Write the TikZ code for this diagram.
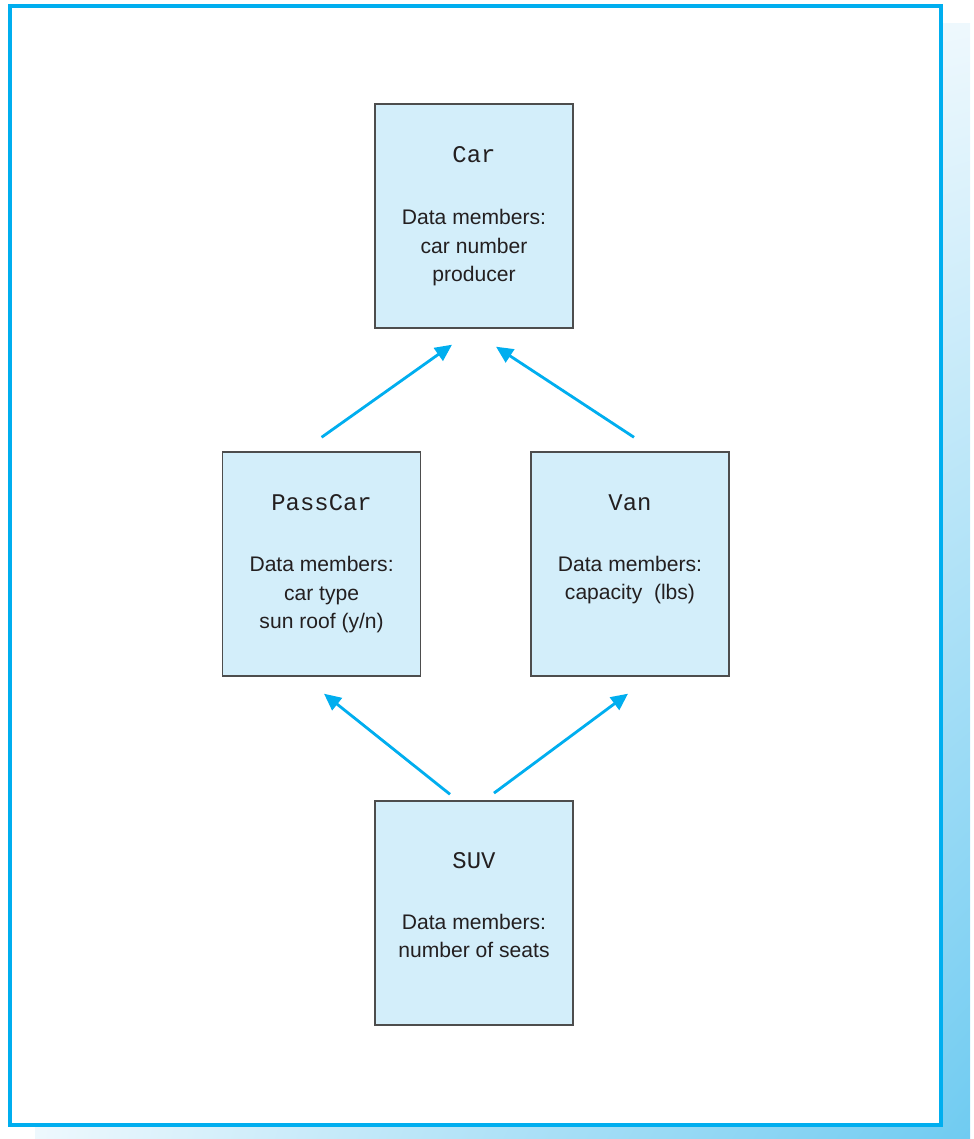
\documentclass[tikz,border=0pt]{standalone}
\usepackage{fontspec}
\setmainfont{Liberation Sans}
\setmonofont{Liberation Mono}
\usepackage{xcolor}
\usepackage{tikz}
\usetikzlibrary{arrows.meta, positioning, shadings}

\definecolor{linkblue}{HTML}{00AEEF}
\definecolor{boxfill}{HTML}{D3EEFA}
\definecolor{boxline}{HTML}{4D4D4D}
\definecolor{inkgray}{HTML}{231F20}
\definecolor{shadowlight}{HTML}{EEF8FD}
\definecolor{shadowdark}{HTML}{6FCBF1}

\tikzset{
  classbox/.style={draw=boxline, line width=1pt, fill=boxfill,
    minimum width=4.95cm, minimum height=5.6cm, inner sep=0pt},
  classname/.style={anchor=base, text=inkgray,
    font=\ttfamily\fontsize{17}{20}\selectfont},
  members/.style={anchor=base, align=center, text=inkgray,
    font=\fontsize{15}{20.6}\selectfont},
  inherit/.style={draw=linkblue, line width=2pt,
    -{Triangle[length=12pt, width=11pt]}}
}

\begin{document}
\begin{tikzpicture}
  \useasboundingbox (0,0) rectangle (24.35,28.475);

  % Frame with shadow
  \shade[upper left=white, upper right=shadowlight, lower left=shadowlight,
    lower right=shadowdark] (0.875,0) rectangle (24.25,27.875);
  \draw[draw=linkblue, line width=2.2pt, fill=white] (0.25,0.35) rectangle (23.525,28.325);

  % Class boxes
  \node[classbox] (car) at (11.85,23.075) {};
  \node[classbox] (passcar) at (8.04,14.375) {};
  \node[classbox] (van) at (15.75,14.375) {};
  \node[classbox] (suv) at (11.85,5.65) {};

  % Car
  \node[classname] (carname) at (11.85,24.4) {Car};
  \node[members] (carmem) at (11.85,21.425) {Data members:\\car number\\producer};

  % PassCar
  \node[classname] (passcarname) at (8.04,15.7) {PassCar};
  \node[members] (passcarmem) at (8.04,12.75) {Data members:\\car type\\sun roof (y/n)};

  % Van
  \node[classname] (vanname) at (15.75,15.7) {Van};
  \node[members] (vanmem) at (15.75,13.475) {Data members:\\capacity\ \ (lbs)};

  % SUV
  \node[classname] (suvname) at (11.85,6.75) {SUV};
  \node[members] (suvmem) at (11.85,4.525) {Data members:\\number of seats};

  % Inheritance arrows
  \draw[inherit] ([yshift=0.35cm]passcar.north) -- ([xshift=-0.55cm, yshift=-0.4cm]car.south);
  \draw[inherit] ([xshift=0.1cm, yshift=0.35cm]van.north) -- ([xshift=0.55cm, yshift=-0.45cm]car.south);
  \draw[inherit] ([xshift=-0.6cm, yshift=0.15cm]suv.north) -- ([xshift=0.06cm, yshift=-0.425cm]passcar.south);
  \draw[inherit] ([xshift=0.5cm, yshift=0.18cm]suv.north) -- ([xshift=-0.05cm, yshift=-0.425cm]van.south);
\end{tikzpicture}
\end{document}
